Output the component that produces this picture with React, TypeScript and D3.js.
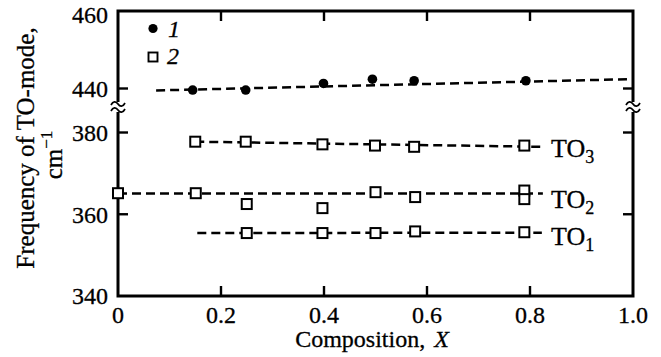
import React from 'react';
import * as d3 from 'd3';

// axis ticks
const xTicks = [0, 0.2, 0.4, 0.6, 0.8, 1.0];
const xTickLabels = ['0', '0.2', '0.4', '0.6', '0.8', '1.0'];
const upperTicks = [460, 440];
const lowerTicks = [380, 360, 340];

// series 1 (filled circles), upper part of the broken axis
const s1X = [0.145, 0.248, 0.399, 0.494, 0.575, 0.792];
const s1Y = [439.6, 439.6, 441.3, 442.4, 442.0, 442.0];

// series 2 (open squares), three TO branches
const to3X = [0.15, 0.248, 0.397, 0.499, 0.575, 0.789];
const to3Y = [377.75, 377.75, 377.1, 376.8, 376.5, 376.8];
const to2X = [0, 0.151, 0.25, 0.397, 0.5, 0.577, 0.789, 0.789];
const to2Y = [365.15, 365.15, 362.5, 361.5, 365.4, 364.2, 365.8, 363.7];
const to1X = [0.25, 0.397, 0.5, 0.577, 0.789];
const to1Y = [355.4, 355.4, 355.4, 355.8, 355.6];

// dashed guide lines: [x0, x1], [y0, y1]
const fitUpper = { x: [0.074, 0.99], y: [439.5, 442.4] };
const fitLower = [
  { x: [0.15, 0.823], y: [377.75, 376.5] },
  { x: [0, 0.825], y: [365.1, 365.1] },
  { x: [0.154, 0.823], y: [355.4, 355.5] },
];

const branchNames = ['3', '2', '1'];
const branchLabelY = [376.5, 364.0, 355.0];

const W = 661, H = 357;
const left = 118, right = 633, top = 11, bottom = 296;
const font = '"Liberation Serif", "Times New Roman", Times, serif';

export default function App() {
  const x = d3.scaleLinear().domain([0, 1]).range([left, right]);
  const yUp = d3.scaleLinear().domain([440, 460]).range([88.5, top]);
  const yLow = d3.scaleLinear().domain([340, 380]).range([bottom, 132.5]);

  const line = d3.line<[number, number]>();
  const dash = { fill: 'none', stroke: '#000', strokeWidth: 2.5, strokeDasharray: '9 5' };
  const ts = { fontFamily: font, stroke: '#000', strokeWidth: 0.3 };

  const breakY = 107;
  const tilde = (cx: number, cy: number) =>
    `M${cx - 7},${cy + 1} c2,-4 5,-4 7,-1 s5,3 7,-1`;

  const sq = 10;

  return (
    <svg width={W} height={H} style={{ position: 'absolute', left: 0, top: 0, background: '#fff', fontFamily: font }}>
      {/* dashed lines */}
      <path d={line([[x(fitUpper.x[0]), yUp(fitUpper.y[0])], [x(fitUpper.x[1]), yUp(fitUpper.y[1])]])!} {...dash} />
      {fitLower.map((f, i) => (
        <path key={i} d={line([[x(f.x[0]), yLow(f.y[0])], [x(f.x[1]), yLow(f.y[1])]])!} {...dash} />
      ))}

      {/* frame */}
      <rect x={left} y={top} width={right - left} height={bottom - top} fill="none" stroke="#000" strokeWidth={3} />

      {/* x ticks top and bottom */}
      {xTicks.slice(1, -1).map(t => (
        <g key={t} stroke="#000" strokeWidth={2.4}>
          <line x1={x(t)} x2={x(t)} y1={top} y2={top + 10} />
          <line x1={x(t)} x2={x(t)} y1={bottom} y2={bottom - 10} />
        </g>
      ))}
      {xTicks.map((t, i) => (
        <text key={t} x={x(t)} y={323} fontSize={24} textAnchor="middle" style={ts}>{xTickLabels[i]}</text>
      ))}

      {/* y ticks, both sides */}
      {[yUp(440), yLow(380), yLow(360)].map((py, i) => (
        <g key={i} stroke="#000" strokeWidth={2.4}>
          <line x1={left} x2={left + 10} y1={py} y2={py} />
          <line x1={right} x2={right - 10} y1={py} y2={py} />
        </g>
      ))}
      {upperTicks.map(t => (
        <text key={t} x={108} y={Math.max(yUp(t), 15)} dy="0.35em" fontSize={24} textAnchor="end" style={ts}>{t}</text>
      ))}
      {lowerTicks.map(t => (
        <text key={t} x={108} y={yLow(t)} dy="0.35em" fontSize={24} textAnchor="end" style={ts}>{t}</text>
      ))}

      {/* axis break marks */}
      {[left, right].map(cx => (
        <g key={cx} fill="none" stroke="#000" strokeWidth={1.7}>
          <rect x={cx - 3} y={breakY - 5} width={6} height={10} fill="#fff" stroke="none" />
          <path d={tilde(cx, breakY - 3)} />
          <path d={tilde(cx, breakY + 3)} />
        </g>
      ))}

      {/* series 1 */}
      {s1X.map((v, i) => (
        <circle key={i} cx={x(v)} cy={yUp(s1Y[i])} r={4.8} fill="#000" />
      ))}

      {/* series 2 */}
      {[[to3X, to3Y], [to2X, to2Y], [to1X, to1Y]].map(([xs, ys], j) =>
        xs.map((v, i) => (
          <rect key={j + '-' + i} x={x(v) - sq / 2} y={yLow(ys[i]) - sq / 2} width={sq} height={sq}
            fill="#fff" stroke="#000" strokeWidth={2} />
        ))
      )}

      {/* branch labels */}
      {branchNames.map((n, i) => (
        <text key={n} x={551} y={yLow(branchLabelY[i]) + 10} fontSize={26} style={ts}>
          TO<tspan fontSize={18} dy={6}>{n}</tspan>
        </text>
      ))}

      {/* legend */}
      <circle cx={153} cy={28.5} r={4.6} fill="#000" />
      <text x={168} y={37} fontSize={24} fontStyle="italic" style={ts}>1</text>
      <rect x={153 - 4.5} y={57 - 4.5} width={9} height={9} fill="#fff" stroke="#000" strokeWidth={1.9} />
      <text x={167} y={64} fontSize={24} fontStyle="italic" style={ts}>2</text>

      {/* axis titles */}
      <text x={372} y={347} fontSize={24} textAnchor="middle" style={ts}>
        Composition,<tspan dx={9} fontStyle="italic">X</tspan>
      </text>
      <text transform="translate(34,148) rotate(-90)" fontSize={25} textAnchor="middle" style={ts}>
        Frequency of TO-mode,
      </text>
      <text transform="translate(62,155) rotate(-90)" fontSize={25} textAnchor="middle" style={ts}>
        cm<tspan fontSize={17} dy={-10}>−1</tspan>
      </text>
    </svg>
  );
}
